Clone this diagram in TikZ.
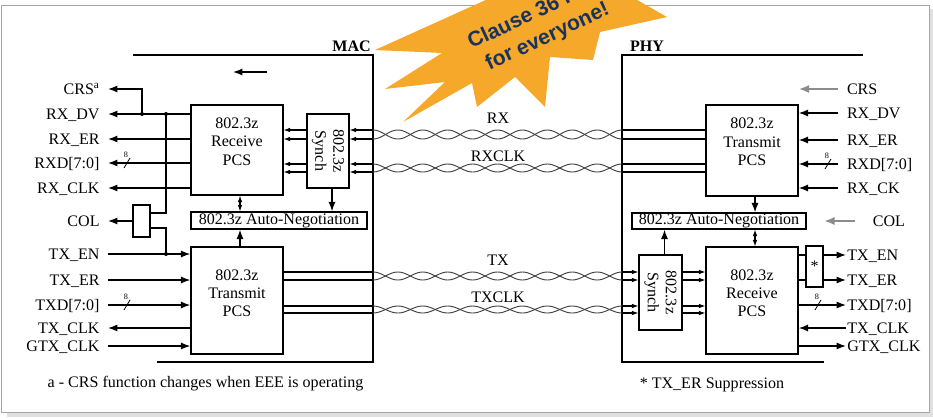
\documentclass[tikz,border=0pt]{standalone}
\usepackage{fontspec}
\setmainfont{Liberation Serif}
\newfontfamily\starfont{Liberation Sans}
\usetikzlibrary{arrows.meta, calc}
\definecolor{starO}{RGB}{246,168,42}
\definecolor{starT}{RGB}{24,52,92}
\definecolor{frameG}{RGB}{165,165,165}
\tikzset{
  lbl/.style={font=\fontsize{13.7}{15.5}\selectfont, text height=9pt, text depth=0pt, inner ysep=0pt},
  lblL/.style={lbl, anchor=east, inner xsep=7pt},
  lblR/.style={lbl, anchor=west, inner xsep=7.5pt},
  blk/.style={draw, line width=1.1pt, inner sep=0pt, font=\fontsize{13.7}{15.5}\selectfont},
  pcstxt/.style={font=\fontsize{13.7}{15.5}\selectfont, align=center, inner sep=0pt},
  wire/.style={line width=1.1pt},
  ar/.style={wire, -{Latex[length=8pt,width=6pt]}},
  sar/.style={line width=0.9pt, -{Latex[length=5.5pt,width=4pt]}},
  dar/.style={line width=0.9pt, {Latex[length=5.5pt,width=4pt]}-{Latex[length=5.5pt,width=4pt]}},
  gar/.style={line width=2.2pt, black!45, -{Latex[length=9pt,width=7pt]}},
  bnd/.style={line width=2pt},
  twist/.style={line width=0.8pt, black!75},
  busw/.style={font=\fontsize{7}{7}\selectfont, inner sep=0pt}}

\begin{document}
\begin{tikzpicture}[x=0.03cm, y=-0.03cm]
\useasboundingbox (0,0) rectangle (933,417);
\clip (0,0) rectangle (933,417);
% frame and shadow
\fill[black!12] (7,412) rectangle (933,417);
\fill[black!12] (929,9) rectangle (933,417);
\draw[frameG, line width=0.8pt] (1,5) rectangle (929,412);
% MAC and PHY borders
\coordinate (macTR) at (373,55);
\coordinate (phyTL) at (622,55);
\draw[bnd] (133,55) -- (macTR) -- (373,362) -- (157,362);
\draw[bnd] (863,55) -- (phyTL) -- (622,362) -- (824,362);
\node[font=\fontsize{13.7}{15.5}\selectfont\bfseries, anchor=base east, inner sep=0pt] (macl) at (371,51) {MAC};
\node[font=\fontsize{13.7}{15.5}\selectfont\bfseries, anchor=base, inner sep=0pt] (phyl) at (647,51) {PHY};
\coordinate (dirS) at (267,72);
\coordinate (dirE) at (233,72);
\draw[ar] (dirS) -- (dirE);

% MAC blocks
\node[blk, minimum width=2.76cm, minimum height=2.7cm] (mrx) at (237,150) {};
\node[pcstxt] (mrxt) at ([yshift=0.25cm]mrx.center) {802.3z\\Receive\\PCS};
\node[blk, minimum width=1.26cm, minimum height=2.22cm] (msyn) at (328,151) {};
\node[pcstxt, rotate=-90] (msynt) at (msyn.center) {802.3z\\Synch};
\node[blk, minimum width=5.28cm, minimum height=0.51cm] (man) at (279,220.5) {802.3z Auto-Negotiation};
\node[blk, minimum width=2.76cm, minimum height=3.21cm] (mtx) at (237,300.5) {};
\node[pcstxt] (mtxt) at ([yshift=0.225cm]mtx.center) {802.3z\\Transmit\\PCS};
\node[blk, minimum width=0.51cm, minimum height=0.96cm] (mcol) at (141.5,221) {};

% PHY blocks
\node[blk, minimum width=2.76cm, minimum height=2.73cm] (ptx) at (752,150.5) {};
\node[pcstxt] (ptxt) at ([yshift=0.26cm]ptx.center) {802.3z\\Transmit\\PCS};
\node[blk, minimum width=5.22cm, minimum height=0.48cm] (pan) at (719,221) {802.3z Auto-Negotiation};
\node[blk, minimum width=1.29cm, minimum height=2.25cm] (psyn) at (660.5,292.5) {};
\node[pcstxt, rotate=-90] (psynt) at (psyn.center) {802.3z\\Synch};
\node[blk, minimum width=2.76cm, minimum height=3.21cm] (prx) at (752,300.5) {};
\node[pcstxt] (prxt) at ([yshift=0.225cm]prx.center) {802.3z\\Receive\\PCS};
\node[blk, minimum width=0.51cm, minimum height=1.23cm] (pstar) at (814.5,266.5) {*};

% MAC signals
\node[lblL] (lcrs) at (108,89) {CRS\textsuperscript{a}};
\node[lblL] (lrxdv) at (108,114) {RX\_DV};
\node[lblL] (lrxer) at (108,139) {RX\_ER};
\node[lblL] (lrxd) at (108,163) {RXD[7:0]};
\node[lblL] (lrxclk) at (108,188) {RX\_CLK};
\node[lblL] (lcol) at (108,221) {COL};
\node[lblL] (ltxen) at (108,254) {TX\_EN};
\node[lblL] (ltxer) at (108,280) {TX\_ER};
\node[lblL] (ltxd) at (108,305) {TXD[7:0]};
\node[lblL] (ltxclk) at (108,328) {TX\_CLK};
\node[lblL] (lgtx) at (108,346) {GTX\_CLK};
\coordinate (jcrs) at (142,114);
\coordinate (jcol) at (166,114);
\coordinate (jtxen) at (166,254);
\draw[ar] (mrx.west |- lrxdv) -- (lrxdv.east);
\draw[ar] (jcrs) |- (lcrs.east);
\draw[ar] (mrx.west |- lrxer) -- (lrxer.east);
\draw[ar] (mrx.west |- lrxd) -- (lrxd.east);
\draw[ar] (mrx.west |- lrxclk) -- (lrxclk.east);
\draw[wire] (jcol) |- ($(mcol.east)+(0,-8)$);
\draw[wire] (jtxen) |- ($(mcol.east)+(0,7)$);
\draw[ar] (mcol.west) -- (lcol.east);
\draw[ar] (ltxen.east) -- (mtx.west |- ltxen);
\draw[ar] (ltxer.east) -- (mtx.west |- ltxer);
\draw[ar] (ltxd.east) -- (mtx.west |- ltxd);
\draw[ar] (mtx.west |- ltxclk) -- (ltxclk.east);
\draw[ar] (lgtx.east) -- (mtx.west |- lgtx);
\foreach \j in {jcrs,jcol,jtxen} \fill (\j) circle (1.7pt);
% MAC inside
\coordinate (mrxb) at ($(mrx.south)+(3,0)$);
\coordinate (mtxb) at ($(mtx.north)+(3,0)$);
\coordinate (msynb) at ($(msyn.south)+(4,0)$);
\draw[dar] (mrxb) -- (mrxb |- man.north);
\draw[ar] (mtxb) -- (mtxb |- man.south);
\draw[ar] (msynb) -- (msynb |- man.north);
\foreach \y in {130,139,164,172} {
  \draw[sar] (msyn.west |- 0,\y) -- (mrx.east |- 0,\y);
  \draw[sar] (macTR |- 0,\y) -- (msyn.east |- 0,\y);
  \draw[wire] (phyTL |- 0,\y) -- (ptx.west |- 0,\y);
}

% PHY signals
\node[lblR] (rcrs) at (838,89) {CRS};
\node[lblR] (rrxdv) at (838,113) {RX\_DV};
\node[lblR] (rrxer) at (838,140) {RX\_ER};
\node[lblR] (rrxd) at (838,164) {RXD[7:0]};
\node[lblR] (rrxck) at (838,188) {RX\_CK};
\node[lblR, inner xsep=15pt] (rcol) at (855,221) {COL};
\node[lblR, inner xsep=1pt] (rtxen) at (846,255) {TX\_EN};
\node[lblR, inner xsep=1pt] (rtxer) at (846,280) {TX\_ER};
\node[lblR, inner xsep=1pt] (rtxd) at (846,305) {TXD[7:0]};
\node[lblR, inner xsep=1pt] (rtxclk) at (846,328) {TX\_CLK};
\node[lblR, inner xsep=1pt] (rgtx) at (846,346) {GTX\_CLK};
\coordinate (colend) at (824,221);
\draw[gar] (rcrs.west) -- (ptx.east |- rcrs);
\draw[gar] (rcol.west) -- (colend);
\draw[ar] (rrxdv.west) -- (ptx.east |- rrxdv);
\draw[ar] (rrxer.west) -- (ptx.east |- rrxer);
\draw[ar] (rrxd.west) -- (ptx.east |- rrxd);
\draw[ar] (rrxck.west) -- (ptx.east |- rrxck);
\draw[wire] (prx.east |- rtxen) -- (pstar.west |- rtxen);
\draw[wire] (prx.east |- rtxer) -- (pstar.west |- rtxer);
\draw[ar] (pstar.east |- rtxen) -- (rtxen.west);
\draw[ar] (pstar.east |- rtxer) -- (rtxer.west);
\draw[ar] (prx.east |- rtxd) -- (rtxd.west);
\draw[ar] (rtxclk.west) -- (prx.east |- rtxclk);
\draw[ar] (prx.east |- rgtx) -- (rgtx.west);
% PHY inside
\coordinate (ptxb) at ($(ptx.south)+(3,0)$);
\coordinate (prxb) at ($(prx.north)+(3,0)$);
\coordinate (psynb) at ($(psyn.north)+(4,0)$);
\draw[ar] (ptxb) -- (ptxb |- pan.north);
\draw[dar] (prxb) -- (prxb |- pan.south);
\draw[ar] (psynb) -- (psynb |- pan.south);
\foreach \y in {272,280,306,313} {
  \draw[wire] (mtx.east |- 0,\y) -- (macTR |- 0,\y);
  \draw[sar] (phyTL |- 0,\y) -- (psyn.west |- 0,\y);
  \draw[sar] (psyn.east |- 0,\y) -- (prx.west |- 0,\y);
}

% bus width marks
\foreach \bx/\by/\bn in {127/163/a, 127/305/b, 828/164/c, 818/305/d} {
  \draw[line width=0.7pt] (\bx-3,\by+5) -- (\bx+3,\by-5);
  \node[busw] (bus\bn) at (\bx-1,\by-8) {8};
}

% twisted pairs
\foreach \yc/\ya in {134.5/4.5, 168/4, 276/4, 309.5/3.5} {
  \draw[twist] plot[domain=373:622, samples=161, smooth] (\x, {\yc-\ya*cos((\x-373)*7.2289)});
  \draw[twist] plot[domain=373:622, samples=161, smooth] (\x, {\yc+\ya*cos((\x-373)*7.2289)});
}
\node[lbl] (trx) at (498,118) {RX};
\node[lbl] (trxclk) at (498,156) {RXCLK};
\node[lbl] (ttx) at (498,260) {TX};
\node[lbl] (ttxclk) at (498,297) {TXCLK};

% notes
\node[lbl] (fna) at (205.5,382) {a - CRS function changes when EEE is operating};
\node[lbl] (fnb) at (712,383) {* TX\_ER Suppression};

% burst
\fill[starO] (375,50) -- (530,-20) -- (566,-5) -- (602,-20) -- (667,17) -- (600,32)
  -- (593,60) -- (550,57) -- (545,107) -- (515,77) -- (477,107) -- (472,83)
  -- (403,122) -- (445,82) -- (385,89) -- (442,53) -- cycle;
\node[font={\starfont\bfseries\fontsize{18}{23}\selectfont}, text=starT, rotate=25, align=center, inner sep=0pt] (slogan) at (542,25) {Clause 36 PCS\\for everyone!};
\end{tikzpicture}
\end{document}
